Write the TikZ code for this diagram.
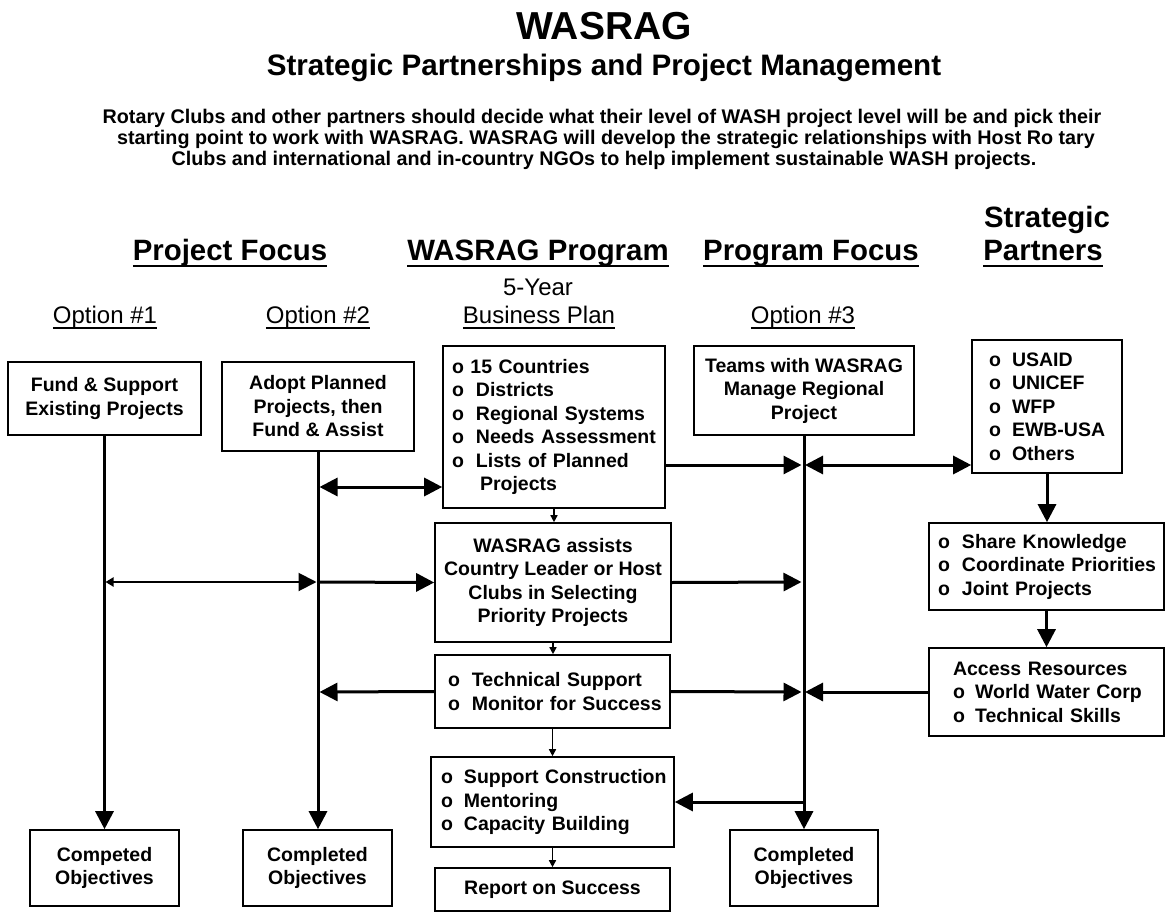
\documentclass[tikz,border=0pt]{standalone}
\usepackage{fontspec}
\setmainfont{Liberation Sans}
\usetikzlibrary{arrows.meta}
\newcommand\myul[1]{\setbox0\hbox{#1}\rlap{\rule[-0.24em]{\wd0}{0.07em}}\box0}
\newcommand\bl[2][24pt]{\mbox{\makebox[#1][l]{o}#2}}
\tikzset{
  BigTri/.tip={Triangle[length=18pt,width=18pt]},
  SmTri/.tip={Triangle[length=8pt,width=9pt]},
  TinyTri/.tip={Triangle[length=7pt,width=7pt]},
  ttl/.style={font=\fontsize{39}{42}\selectfont\bfseries, inner sep=0pt, anchor=base},
  sub/.style={font=\fontsize{29.6}{32}\selectfont\bfseries, inner sep=0pt, anchor=base},
  para/.style={font=\fontsize{19.75}{21}\selectfont\bfseries, inner sep=0pt, anchor=base},
  hdr/.style={font=\fontsize{29.4}{32}\selectfont\bfseries, inner sep=0pt, anchor=base},
  opt/.style={font=\fontsize{24}{27}\selectfont, inner sep=0pt, anchor=base},
  box/.style={draw, line width=1.6pt, font=\fontsize{19.5}{23.5}\selectfont\bfseries, inner sep=0pt, align=center},
  lbox/.style={box, align=left},
  main/.style={line width=3pt},
  thin/.style={line width=1.4pt, -{TinyTri}},
}
\begin{document}
\begin{tikzpicture}[x=1pt,y=-1pt]
\useasboundingbox (0,0) rectangle (1172,912);
% titles
\node[ttl] (title) at (604,40) {WASRAG};
\node[sub] (subtitle) at (604,76) {Strategic Partnerships and Project Management};
\node[para] (p1) at (602,124) {Rotary Clubs and other partners should decide what their level of WASH project level will be and pick their};
\node[para] (p2) at (606,145) {starting point to work with WASRAG. WASRAG will develop the strategic relationships with Host Ro tary};
\node[para] (p3) at (604,166) {Clubs and international and in-country NGOs to help implement sustainable WASH projects.};
% headers
\node[hdr] (h1) at (230,260) {\myul{Project Focus}};
\node[hdr] (h2) at (538,260) {\myul{WASRAG Program}};
\node[hdr] (h3) at (811,260) {\myul{Program Focus}};
\node[hdr] (h4a) at (1047,227) {Strategic};
\node[hdr] (h4b) at (1043,260) {\myul{Partners}};
\node[opt] (y5) at (538,295) {5-Year};
\node[opt] (bp) at (539,323) {\myul{Business Plan}};
\node[opt] (o1) at (105,323) {\myul{Option \#1}};
\node[opt] (o2) at (318,323) {\myul{Option \#2}};
\node[opt] (o3) at (803,323) {\myul{Option \#3}};
% boxes
\node[box, minimum width=193pt, minimum height=73pt] (fund) at (104.5,398.5) {Fund \& Support\\Existing Projects};
\node[box, minimum width=192pt, minimum height=89pt] (adopt) at (318,406.5) {Adopt Planned\\Projects, then\\Fund \& Assist};
\node[lbox, minimum width=222pt, minimum height=162pt, text width=204pt, inner xsep=9pt] (countries) at (554,427)
  {\mbox{o 15 Countries}\\\bl{Districts}\\\bl{Regional Systems}\\\bl{Needs Assessment}\\\bl{Lists of Planned}\\\mbox{\hspace*{28pt}Projects}};
\node[box, minimum width=236pt, minimum height=119pt] (assists) at (553,582.5) {WASRAG assists\\Country Leader or Host\\Clubs in Selecting\\Priority Projects};
\node[box, minimum width=220pt, minimum height=89pt] (teams) at (804,390.5) {Teams with WASRAG\\Manage Regional\\Project};
\node[lbox, minimum width=150pt, minimum height=133pt, text width=116pt, inner xsep=17pt] (partners) at (1047,406.5)
  {\bl[23pt]{USAID}\\\bl[23pt]{UNICEF}\\\bl[23pt]{WFP}\\\bl[23pt]{EWB-USA}\\\bl[23pt]{Others}};
\node[lbox, minimum width=235pt, minimum height=87pt, text width=217pt, inner xsep=9pt] (share) at (1046.5,566.5)
  {\bl{Share Knowledge}\\\bl{Coordinate Priorities}\\\bl{Joint Projects}};
\node[lbox, minimum width=235pt, minimum height=88pt, text width=187pt, inner xsep=24pt] (access) at (1046.5,692)
  {\mbox{Access Resources}\\\bl[22pt]{World Water Corp}\\\bl[22pt]{Technical Skills}};
\node[lbox, minimum width=235pt, minimum height=73pt, text width=209pt, inner xsep=13pt] (tech) at (552.5,691.5)
  {\bl{Technical Support}\\\bl{Monitor for Success}};
\node[lbox, minimum width=243pt, minimum height=90pt, text width=223pt, inner xsep=10pt] (support) at (552.5,802)
  {\bl[23pt]{Support Construction}\\\bl[23pt]{Mentoring}\\\bl[23pt]{Capacity Building}};
\node[box, minimum width=235pt, minimum height=43pt] (report) at (552.5,889.5) {Report on Success};
\node[box, minimum width=149pt, minimum height=76pt] (obj1) at (104.5,868) {Competed\\Objectives};
\node[box, minimum width=149pt, minimum height=76pt] (obj2) at (317.5,868) {Completed\\Objectives};
\node[box, minimum width=148pt, minimum height=76pt] (obj3) at (804,868) {Completed\\Objectives};
% vertical main lines
\draw[main, -{BigTri}] (fund.south) -- (obj1.north);
\draw[main, -{BigTri}] (adopt.south) -- (adopt.south |- obj2.north);
\draw[main, -{BigTri}] (teams.south) -- (teams.south |- obj3.north);
% coordinates on the lines
\coordinate (l2a) at (319.5,487);
\coordinate (l1b) at (105.5,582);
\coordinate (l2b) at (316.5,582);
\coordinate (l2bR) at (318,582);
\coordinate (l3aL) at (801.5,465);
\coordinate (l3aR) at (805,465);
\coordinate (l3b) at (801.5,582);
\coordinate (l2c) at (319.5,692);
\coordinate (l3cL) at (801.5,692);
\coordinate (l3cR) at (805,692);
\coordinate (l3d) at (803,802);
% horizontal connectors
\draw[main, {BigTri}-{BigTri}] (l2a) -- (l2a -| countries.west);
\draw[line width=2pt, {SmTri}-{BigTri}] (l1b) -- (l2b);
\draw[main, -{BigTri}] (l2bR) -- (assists.west);
\draw[main, -{BigTri}] (l3aL -| countries.east) -- (l3aL);
\draw[main, {BigTri}-{BigTri}] (l3aR) -- (l3aR -| partners.west);
\draw[main, -{BigTri}] (assists.east) -- (l3b);
\draw[main, -{BigTri}] (tech.west) -- (l2c);
\draw[main, -{BigTri}] (tech.east) -- (l3cL);
\draw[main, -{BigTri}] (access.west) -- (l3cR);
\draw[main, -{BigTri}] (l3d) -- (support.east);
% right column
\draw[main, -{BigTri}] (partners.south) -- (partners.south |- share.north);
\draw[main, -{BigTri}] (share.south) -- (access.north);
% centre column small arrows
\draw[thin] (countries.south) -- (countries.south |- assists.north);
\draw[thin] (assists.south) -- (assists.south |- tech.north);
\draw[thin] (tech.south) -- (support.north);
\draw[thin] (support.south) -- (report.north);
\end{tikzpicture}
\end{document}
